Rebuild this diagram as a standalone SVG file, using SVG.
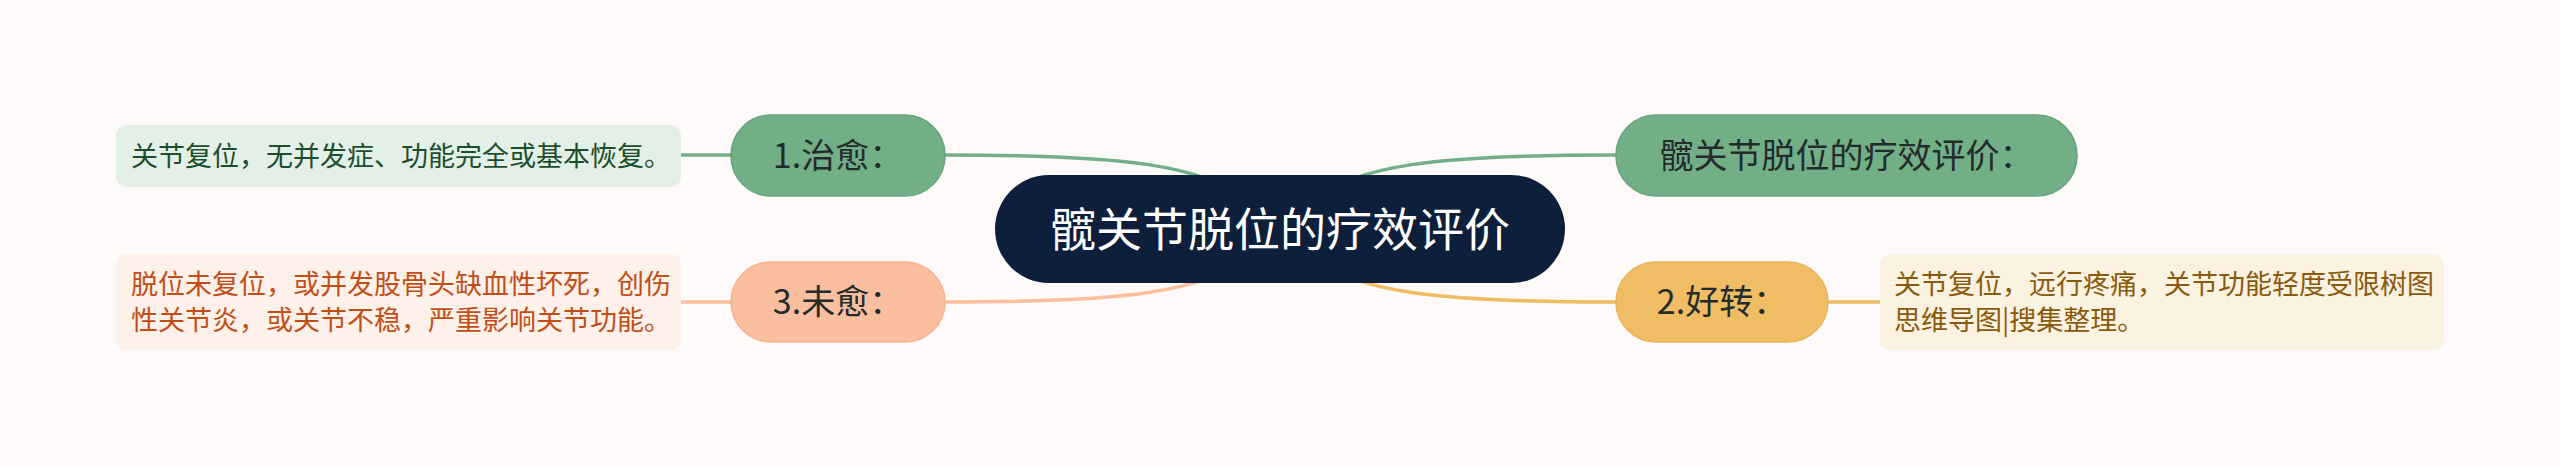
<svg xmlns="http://www.w3.org/2000/svg" width="2560" height="466" viewBox="0 0 2560 466">
<style>
text{font-family:"Noto Sans CJK SC","Noto Sans",sans-serif}
.conn{fill:none;stroke-width:3.5;stroke-linecap:round}
.g{stroke:#72ae86}.p{stroke:#fbbe9e}.y{stroke:#f0bd64}
.n1{font-size:34px;fill:#232b2b;text-anchor:middle}
.leaf{font-size:27px}
</style>
<rect width="2560" height="466" fill="#fdfaf9"/>
<g id="connectors">
<path class="conn g" d="M945 155 C1130 155 1200 165 1252 202"/>
<path class="conn p" d="M945 302 C1130 302 1200 292 1252 256"/>
<path class="conn g" d="M1616 155 C1430 155 1360 165 1308 202"/>
<path class="conn y" d="M1616 302 C1430 302 1360 292 1308 256"/>
<line class="conn g" x1="681" y1="155" x2="731" y2="155"/>
<line class="conn p" x1="681" y1="302" x2="731" y2="302"/>
<line class="conn y" x1="1828" y1="302" x2="1880" y2="302"/>
</g>
<g id="root">
<rect x="995" y="175" width="570" height="108" rx="54" fill="#0d1f3a"/>
<text x="1280" y="246" font-size="46" fill="#ffffff" text-anchor="middle">髋关节脱位的疗效评价</text>
</g>
<g id="node-zhiyu">
<rect x="731" y="115" width="214" height="81" rx="40" fill="#72ae86" stroke="#68a47c" stroke-width="1.5"/>
<text class="n1" x="838" y="168">1.治愈：</text>
</g>
<g id="leaf-zhiyu">
<rect x="116" y="125" width="565" height="62" rx="10" fill="#e3f0e7"/>
<text class="leaf" x="131" y="166" fill="#1e4d2b">关节复位，无并发症、功能完全或基本恢复。</text>
</g>
<g id="node-weiyu">
<rect x="731" y="262" width="214" height="80" rx="40" fill="#fbbe9e" stroke="#f5b393" stroke-width="1.5"/>
<text class="n1" x="838" y="314">3.未愈：</text>
</g>
<g id="leaf-weiyu">
<rect x="116" y="254" width="565" height="96" rx="10" fill="#fdf1ea"/>
<text class="leaf" fill="#c24e17"><tspan x="131" y="294">脱位未复位，或并发股骨头缺血性坏死，创伤</tspan><tspan x="131" y="330">性关节炎，或关节不稳，严重影响关节功能。</tspan></text>
</g>
<g id="node-title">
<rect x="1616" y="115" width="461" height="81" rx="40" fill="#72ae86" stroke="#68a47c" stroke-width="1.5"/>
<text class="n1" x="1846.5" y="168">髋关节脱位的疗效评价：</text>
</g>
<g id="node-haozhuan">
<rect x="1616" y="262" width="212" height="80" rx="40" fill="#f0bd64" stroke="#e8b45a" stroke-width="1.5"/>
<text class="n1" x="1722" y="314">2.好转：</text>
</g>
<g id="leaf-haozhuan">
<rect x="1880" y="254" width="564" height="96" rx="10" fill="#fcf2e2"/>
<text class="leaf" fill="#8a5a0a"><tspan x="1894" y="294">关节复位，远行疼痛，关节功能轻度受限树图</tspan><tspan x="1894" y="330">思维导图|搜集整理。</tspan></text>
</g>
</svg>
